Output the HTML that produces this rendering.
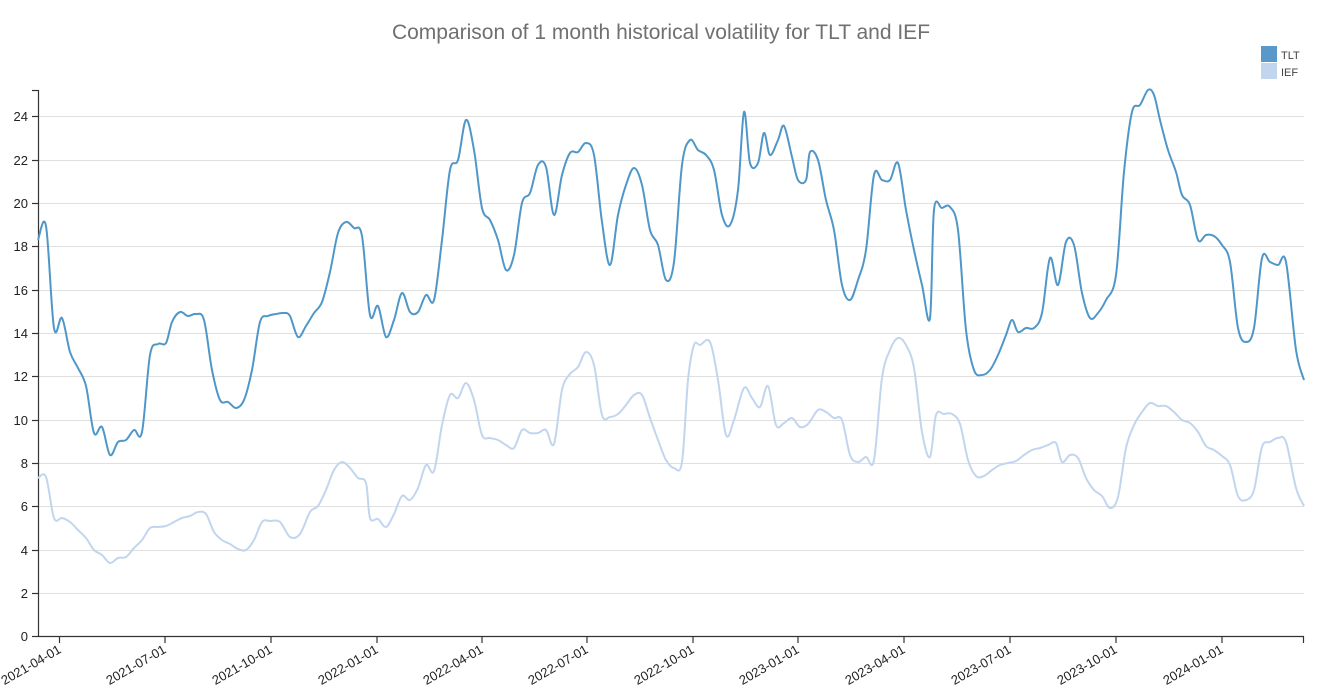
<!DOCTYPE html>
<html><head><meta charset="utf-8"><style>
body{margin:0;background:#fff;}
svg{display:block;font-family:"Liberation Sans",Arial,sans-serif;}
</style></head><body>
<svg width="1322" height="696" viewBox="0 0 1322 696">
<text x="661" y="39" text-anchor="middle" font-size="21" fill="#707070">Comparison of 1 month historical volatility for TLT and IEF</text>
<g stroke="#e0e0e0" stroke-width="1">
<line x1="38" x2="1304" y1="593.5" y2="593.5"/><line x1="38" x2="1304" y1="550.5" y2="550.5"/><line x1="38" x2="1304" y1="506.5" y2="506.5"/><line x1="38" x2="1304" y1="463.5" y2="463.5"/><line x1="38" x2="1304" y1="420.5" y2="420.5"/><line x1="38" x2="1304" y1="376.5" y2="376.5"/><line x1="38" x2="1304" y1="333.5" y2="333.5"/><line x1="38" x2="1304" y1="290.5" y2="290.5"/><line x1="38" x2="1304" y1="246.5" y2="246.5"/><line x1="38" x2="1304" y1="203.5" y2="203.5"/><line x1="38" x2="1304" y1="160.5" y2="160.5"/><line x1="38" x2="1304" y1="116.5" y2="116.5"/>
</g>
<g stroke="#333" stroke-width="1.2" fill="none">
<line x1="38.5" x2="38.5" y1="90" y2="636"/>
<line x1="38" x2="1304" y1="636.5" y2="636.5"/>
<line x1="32" x2="38" y1="90.5" y2="90.5"/>
</g>
<g stroke="#333" stroke-width="1.2">
<line x1="32" x2="38" y1="636.5" y2="636.5"/><line x1="32" x2="38" y1="593.5" y2="593.5"/><line x1="32" x2="38" y1="550.5" y2="550.5"/><line x1="32" x2="38" y1="506.5" y2="506.5"/><line x1="32" x2="38" y1="463.5" y2="463.5"/><line x1="32" x2="38" y1="420.5" y2="420.5"/><line x1="32" x2="38" y1="376.5" y2="376.5"/><line x1="32" x2="38" y1="333.5" y2="333.5"/><line x1="32" x2="38" y1="290.5" y2="290.5"/><line x1="32" x2="38" y1="246.5" y2="246.5"/><line x1="32" x2="38" y1="203.5" y2="203.5"/><line x1="32" x2="38" y1="160.5" y2="160.5"/><line x1="32" x2="38" y1="116.5" y2="116.5"/>
<line x1="59.5" x2="59.5" y1="636" y2="643"/><line x1="165" x2="165" y1="636" y2="643"/><line x1="271" x2="271" y1="636" y2="643"/><line x1="377" x2="377" y1="636" y2="643"/><line x1="482" x2="482" y1="636" y2="643"/><line x1="587" x2="587" y1="636" y2="643"/><line x1="693" x2="693" y1="636" y2="643"/><line x1="798" x2="798" y1="636" y2="643"/><line x1="904" x2="904" y1="636" y2="643"/><line x1="1010" x2="1010" y1="636" y2="643"/><line x1="1116" x2="1116" y1="636" y2="643"/><line x1="1222" x2="1222" y1="636" y2="643"/><line x1="1303.5" x2="1303.5" y1="636" y2="643"/>
</g>
<g font-size="13" fill="#222" text-anchor="end">
<text x="28" y="641">0</text><text x="28" y="598">2</text><text x="28" y="555">4</text><text x="28" y="511">6</text><text x="28" y="468">8</text><text x="28" y="425">10</text><text x="28" y="381">12</text><text x="28" y="338">14</text><text x="28" y="295">16</text><text x="28" y="251">18</text><text x="28" y="208">20</text><text x="28" y="165">22</text><text x="28" y="121">24</text>
</g>
<g font-size="13" fill="#222" text-anchor="end">
<text transform="translate(62,652) rotate(-30)">2021-04-01</text>
<text transform="translate(167,652) rotate(-30)">2021-07-01</text>
<text transform="translate(273,652) rotate(-30)">2021-10-01</text>
<text transform="translate(379,652) rotate(-30)">2022-01-01</text>
<text transform="translate(484,652) rotate(-30)">2022-04-01</text>
<text transform="translate(589,652) rotate(-30)">2022-07-01</text>
<text transform="translate(695,652) rotate(-30)">2022-10-01</text>
<text transform="translate(800,652) rotate(-30)">2023-01-01</text>
<text transform="translate(906,652) rotate(-30)">2023-04-01</text>
<text transform="translate(1012,652) rotate(-30)">2023-07-01</text>
<text transform="translate(1118,652) rotate(-30)">2023-10-01</text>
<text transform="translate(1224,652) rotate(-30)">2024-01-01</text>
</g>
<polyline class="sm" fill="none" stroke="#c1d6ee" stroke-width="2" stroke-linejoin="round" points="38,478 46,477 54,518 62,518 70,522 78,530 86,538 94,550 102,555 110,563 118,558 126,557 134,548 142,540 150,528 158,527 166,526 174,522 182,518 190,516 198,512 206,514 214,532 222,540 230,544 238,549 246,550 254,540 262,522 270,521 280,522 290,537 300,534 310,512 318,506 326,490 334,470 342,462 350,468 358,478 366,483 370,518 378,519 386,527 394,514 402,496 410,500 418,488 426,465 434,471 442,425 450,395 458,398 466,383 474,400 482,435 490,438 498,440 506,445 514,448 522,430 530,433 538,433 546,430 554,444 562,390 570,374 578,367 586,352 594,365 602,415 610,417 618,414 626,405 634,395 642,395 650,418 658,440 666,460 674,468 682,462 688,380 694,345 700,345 710,342 718,380 726,435 734,420 744,388 752,398 760,407 768,386 776,425 784,423 792,418 800,427 808,424 818,410 826,412 834,418 842,420 850,455 858,462 866,457 874,460 882,378 890,350 898,338 906,345 914,368 922,432 930,457 936,415 944,414 952,414 960,424 968,460 976,476 984,476 992,470 1000,465 1008,463 1016,461 1024,455 1032,450 1040,448 1048,445 1056,443 1062,462 1070,455 1078,458 1086,478 1094,490 1102,496 1110,508 1118,497 1126,448 1134,425 1142,412 1150,403 1158,406 1166,406 1174,412 1182,420 1190,423 1198,432 1206,446 1214,450 1222,456 1230,465 1238,496 1246,500 1254,490 1262,447 1270,442 1278,438 1286,442 1296,488 1304,506"/>
<polyline class="sm" fill="none" stroke="#4f97c9" stroke-width="2" stroke-linejoin="round" points="38,240 46,226 54,328 62,318 70,352 78,368 86,386 94,433 102,427 110,455 118,442 126,440 134,430 142,432 150,355 158,344 166,343 172,322 180,312 188,316 196,314 204,320 212,370 220,400 228,402 236,408 244,400 252,370 260,322 268,316 276,314 284,313 290,316 298,337 306,326 314,313 322,302 330,272 338,233 346,222 354,228 362,236 370,315 378,306 386,337 394,320 402,293 410,312 418,312 426,295 434,300 442,240 450,170 458,160 466,120 474,150 482,208 490,220 498,240 506,270 514,255 522,203 530,193 538,165 546,167 554,215 562,175 570,153 578,152 586,143 594,155 602,222 610,265 618,215 626,185 634,168 642,185 650,230 658,245 666,280 674,262 682,165 690,140 698,150 706,155 714,170 722,215 730,225 738,190 744,112 750,163 758,163 764,133 770,155 778,140 784,126 792,157 798,180 806,180 810,152 818,160 826,200 834,230 842,285 850,300 858,280 866,250 874,175 882,180 890,180 898,163 906,210 914,250 922,285 930,318 934,210 942,208 950,207 958,230 966,330 974,370 982,375 990,370 998,355 1006,335 1012,320 1018,332 1026,328 1034,328 1042,313 1050,258 1058,285 1066,242 1074,245 1082,293 1090,318 1098,313 1106,300 1116,275 1124,172 1132,112 1140,105 1148,90 1154,95 1160,120 1168,150 1176,172 1182,195 1190,205 1198,240 1206,235 1214,236 1222,245 1230,262 1238,328 1246,342 1254,328 1262,258 1270,262 1278,265 1286,262 1296,350 1304,380"/>
<rect x="1261" y="46" width="16" height="16" fill="#5799c9"/>
<rect x="1261" y="63" width="16" height="16" fill="#c1d6ee"/>
<text x="1281" y="59" font-size="11" fill="#444">TLT</text>
<text x="1281" y="76" font-size="11" fill="#444">IEF</text>
</svg>
<script>
document.querySelectorAll('polyline.sm').forEach(function(pl){
  var p=pl.getAttribute('points').trim().split(/\s+/).map(function(s){var a=s.split(',');return [+a[0],+a[1]];});
  var d='M'+p[0][0]+','+p[0][1];
  for(var i=0;i<p.length-1;i++){
    var p0=p[i>0?i-1:i],p1=p[i],p2=p[i+1],p3=p[i+2<p.length?i+2:i+1];
    var c1x=p1[0]+(p2[0]-p0[0])/6,c1y=p1[1]+(p2[1]-p0[1])/6;
    var c2x=p2[0]-(p3[0]-p1[0])/6,c2y=p2[1]-(p3[1]-p1[1])/6;
    d+=' C'+c1x.toFixed(1)+','+c1y.toFixed(1)+' '+c2x.toFixed(1)+','+c2y.toFixed(1)+' '+p2[0]+','+p2[1];
  }
  var path=document.createElementNS('http://www.w3.org/2000/svg','path');
  path.setAttribute('d',d);path.setAttribute('fill','none');
  path.setAttribute('stroke',pl.getAttribute('stroke'));path.setAttribute('stroke-width','2');
  pl.parentNode.replaceChild(path,pl);
});
</script>
</body></html>
